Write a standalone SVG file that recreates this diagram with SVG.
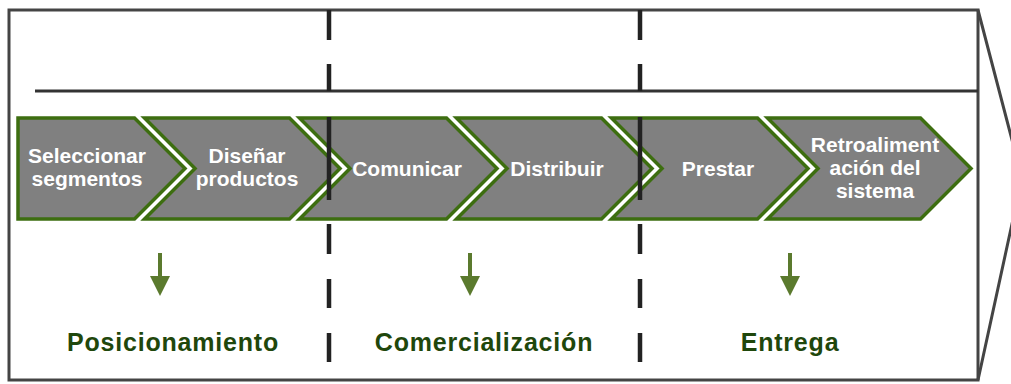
<svg xmlns="http://www.w3.org/2000/svg" width="1011" height="384" viewBox="0 0 1011 384">
<style>
.frame{fill:none;stroke:#444;stroke-width:3;stroke-linejoin:miter}
.sep{stroke:#222;stroke-width:4.5;fill:none}
.chev{fill:#808080;stroke:#3d6e10;stroke-width:3.5;stroke-linejoin:miter}
.ct{font-family:"Liberation Sans",Arial,sans-serif;font-weight:bold;font-size:21px;fill:#fff;text-anchor:middle}
.lbl{font-family:"Liberation Sans",Arial,sans-serif;font-weight:bold;font-size:25px;fill:#1f470c;text-anchor:middle;letter-spacing:0.8px}
.arr{fill:#5b7a2e}
</style>
<g id="frame">
<rect class="frame" x="9" y="10" width="969" height="370"/>
<polyline class="frame" points="978,10 1022,178 978,380"/>
<line x1="35" y1="91" x2="978" y2="91" stroke="#333" stroke-width="3"/>
</g>
<g id="chevron1">
<polygon class="chev" points="18,118 134.5,118 185,168.5 134.5,219 18,219"/>
<text class="ct" x="87" y="163">Seleccionar</text>
<text class="ct" x="87" y="185.5">segmentos</text>
</g>
<g id="chevron2">
<polygon class="chev" points="144.5,118 289.5,118 340,168.5 289.5,219 144.5,219 195,168.5"/>
<text class="ct" x="247" y="163">Diseñar</text>
<text class="ct" x="247" y="185.5">productos</text>
</g>
<g id="chevron3">
<polygon class="chev" points="299.5,118 446.5,118 497,168.5 446.5,219 299.5,219 350,168.5"/>
<text class="ct" x="407" y="176">Comunicar</text>
</g>
<g id="chevron4">
<polygon class="chev" points="456.5,118 601.5,118 652,168.5 601.5,219 456.5,219 507,168.5"/>
<text class="ct" x="557" y="176">Distribuir</text>
</g>
<g id="chevron5">
<polygon class="chev" points="611.5,118 757.5,118 808,168.5 757.5,219 611.5,219 662,168.5"/>
<text class="ct" x="718" y="176">Prestar</text>
</g>
<g id="chevron6">
<polygon class="chev" points="767.5,118 920.5,118 971,168.5 920.5,219 767.5,219 818,168.5"/>
<text class="ct" x="875" y="152">Retroaliment</text>
<text class="ct" x="875" y="175">ación del</text>
<text class="ct" x="875" y="198">sistema</text>
</g>
<g id="connectors">
<g id="separators">
<path class="sep" d="M329,10V40M329,64V91M329,117V200M329,224V254M329,279V308M329,333V362"/>
<path class="sep" d="M640,10V40M640,64V91M640,117V200M640,224V254M640,279V308M640,333V362"/>
</g>
<g id="arrows">
<rect class="arr" x="158" y="253" width="4" height="25"/>
<polygon class="arr" points="150,276 170,276 160,296"/>
<rect class="arr" x="468" y="253" width="4" height="25"/>
<polygon class="arr" points="460,276 480,276 470,296"/>
<rect class="arr" x="788" y="253" width="4" height="25"/>
<polygon class="arr" points="780,276 800,276 790,296"/>
</g>
</g>
<g id="label1"><text class="lbl" x="173" y="351">Posicionamiento</text></g>
<g id="label2"><text class="lbl" x="484" y="351">Comercialización</text></g>
<g id="label3"><text class="lbl" x="790" y="351">Entrega</text></g>
</svg>
